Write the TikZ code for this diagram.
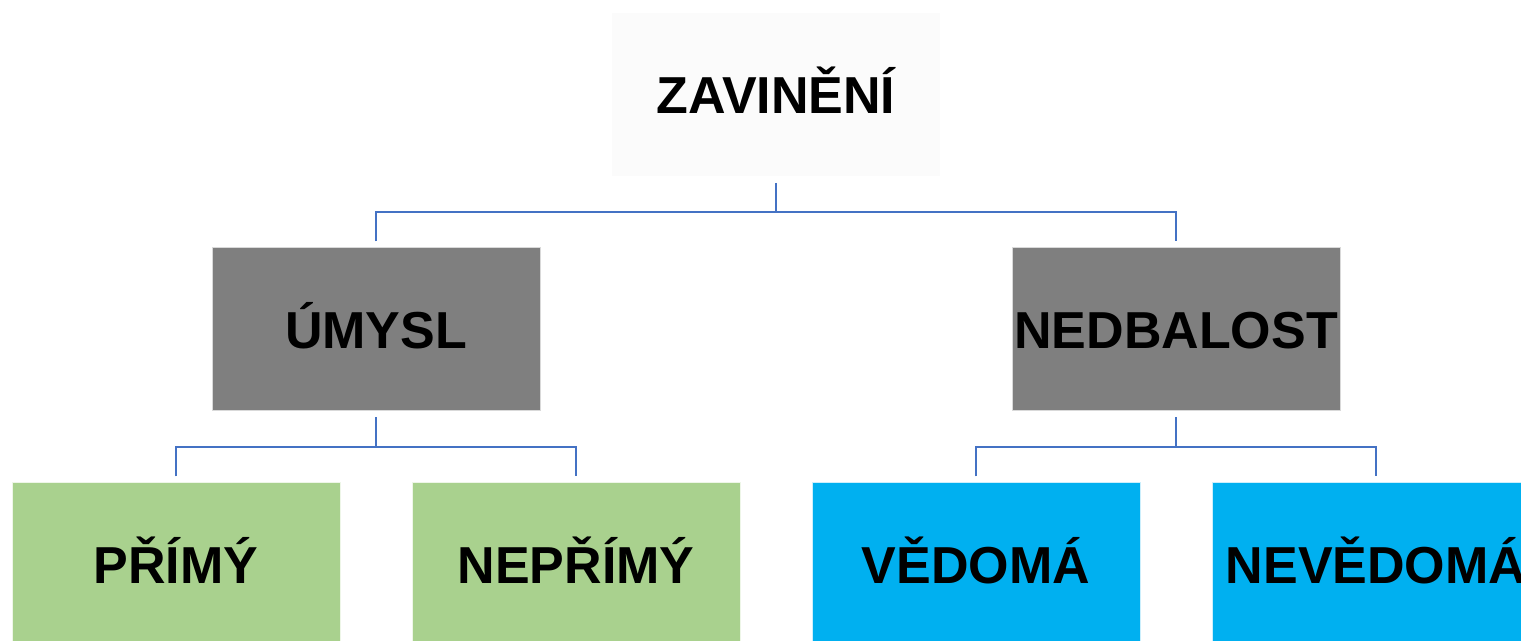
\documentclass[tikz,border=0pt]{standalone}
\usepackage{fontspec}
\setmainfont{Liberation Sans}
\definecolor{topfill}{HTML}{FBFBFB}
\definecolor{grayfill}{HTML}{7F7F7F}
\definecolor{greenfill}{HTML}{A9D18E}
\definecolor{bluefill}{HTML}{00B0F0}
\definecolor{linkcol}{HTML}{4472C4}
\definecolor{edgecol}{HTML}{D9D9D9}
\begin{document}
\begin{tikzpicture}[x=0.5pt,y=-0.5pt,
  box/.style={rectangle, inner sep=0pt, minimum width=164pt, minimum height=81.5pt,
    font=\fontsize{26}{30}\selectfont\bfseries, text height=18.6pt, text depth=0pt,
    draw=edgecol, line width=0.5pt},
  topbox/.style={box, fill=topfill, draw=none},
  graybox/.style={box, fill=grayfill},
  greenbox/.style={box, fill=greenfill, draw=white!80!greenfill},
  bluebox/.style={box, fill=bluefill, draw=white!80!bluefill},
  link/.style={draw=linkcol, line width=1.2pt}]
\useasboundingbox (0,0) rectangle (1521,641);
\clip (0,0) rectangle (1521,641);
\fill[white] (0,0) rectangle (1521,641);
\node[topbox] (zav) at (776,95) {ZAVINĚNÍ};
\node[graybox] (umy) at (376,329.5) {ÚMYSL};
\node[graybox] (ned) at (1176,329.5) {NEDBALOST};
\node[greenbox] (pri) at (176,564.5) {PŘÍMÝ};
\node[greenbox] (nep) at (576,564.5) {NEPŘÍMÝ};
\node[bluebox] (ved) at (976,564.5) {VĚDOMÁ};
\node[bluebox] (nev) at (1376,564.5) {NEVĚDOMÁ};
\coordinate (j1) at (776,212);
\coordinate (j2) at (376,447);
\coordinate (j3) at (1176,447);
\draw[link] ([yshift=-3]zav.south) -- (j1);
\draw[link] ([yshift=3]umy.north) |- (j1) -| ([yshift=3]ned.north);
\draw[link] ([yshift=-3]umy.south) -- (j2);
\draw[link] ([yshift=3]pri.north) |- (j2) -| ([yshift=3]nep.north);
\draw[link] ([yshift=-3]ned.south) -- (j3);
\draw[link] ([yshift=3]ved.north) |- (j3) -| ([yshift=3]nev.north);
\end{tikzpicture}
\end{document}
